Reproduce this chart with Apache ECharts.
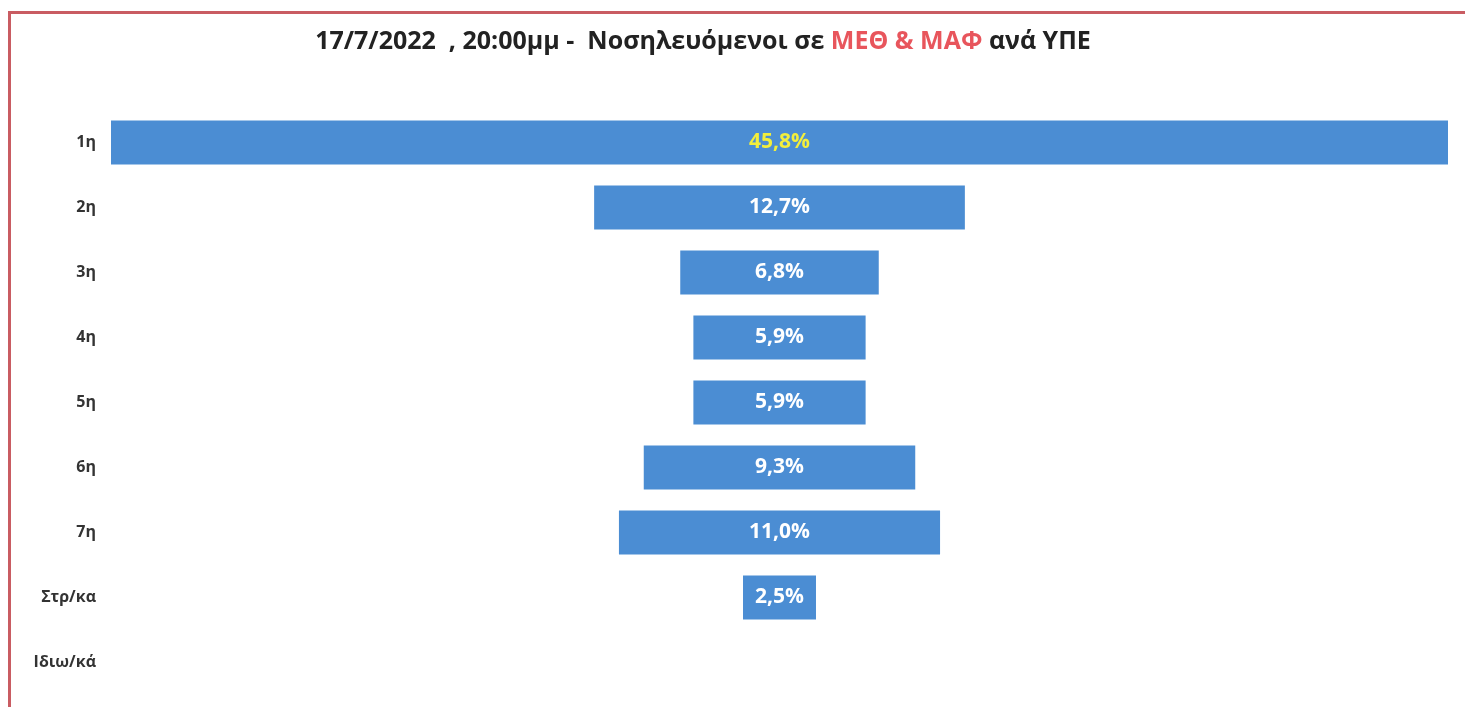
<!DOCTYPE html>
<html>
<head>
<meta charset="utf-8">
<script src="https://cdn.jsdelivr.net/npm/echarts@6/dist/echarts.min.js"></script>
<style>
  html, body { margin: 0; padding: 0; background: #fff; }
  #frame {
    position: absolute; left: 8px; top: 11px; width: 1480px; height: 720px;
    border-left: 3px solid #c95c62; border-top: 3px solid #c95c62;
  }
  #chart { position: absolute; left: 0; top: 0; width: 1465px; height: 707px; }
</style>
</head>
<body>
<div id="frame"></div>
<div id="chart"></div>
<script>
// regions (ΥΠΕ) and share of ICU patients, %
var regions = ['1η', '2η', '3η', '4η', '5η', '6η', '7η', 'Στρ/κα', 'Ιδιω/κά']
var shares = [45.8, 12.7, 6.8, 5.9, 5.9, 9.3, 11.0, 2.5, null]

var maxShare = 45.8
// transparent spacer so each bar sits in the middle
var spacer = shares.map(function (v) { return v == null ? null : (maxShare - v) / 2 })

// first region label is in yellow
var shareData = shares.map(function (v, i) {
  if (i === 0) return { value: v, label: { color: '#f2ee3c' } }
  return v
})

var myChart = echarts.init(document.getElementById('chart'))
myChart.setOption({
  animation: false,
  title: {
    text: '17/7/2022  , 20:00μμ -  Νοσηλευόμενοι σε {red|ΜΕΘ & ΜΑΦ} ανά ΥΠΕ',
    left: 698,
    textAlign: 'center',
    top: 24,
    textStyle: {
      fontFamily: 'Open Sans',
      fontWeight: 'bold',
      fontSize: 25,
      color: '#222',
      rich: {
        red: { fontFamily: 'Open Sans', fontWeight: 'bold', fontSize: 25, color: '#e8555c' }
      }
    }
  },
  grid: { left: 111, right: 17, top: 110, bottom: 12 },
  xAxis: { type: 'value', min: 0, max: maxShare, show: false },
  yAxis: {
    type: 'category',
    inverse: true,
    data: regions,
    axisLine: { show: false },
    axisTick: { show: false },
    splitLine: { show: false },
    axisLabel: {
      margin: 15,
      fontFamily: 'Open Sans',
      fontWeight: 'bold',
      fontSize: 16,
      color: '#333'
    }
  },
  series: [
    {
      type: 'bar',
      stack: 'f',
      data: spacer,
      itemStyle: { color: 'transparent' },
      silent: true
    },
    {
      type: 'bar',
      stack: 'f',
      data: shareData,
      barWidth: '68%',
      itemStyle: { color: '#4b8dd3' },
      label: {
        show: true,
        position: 'inside',
        fontFamily: 'Open Sans',
        fontWeight: 'bold',
        fontSize: 21,
        color: '#fff',
        formatter: function (p) {
          return p.value.toFixed(1).replace('.', ',') + '%'
        }
      },
      emphasis: { disabled: true }
    }
  ]
})
window.addEventListener('resize', function () {
  myChart.resize()
})
</script>
</body>
</html>
